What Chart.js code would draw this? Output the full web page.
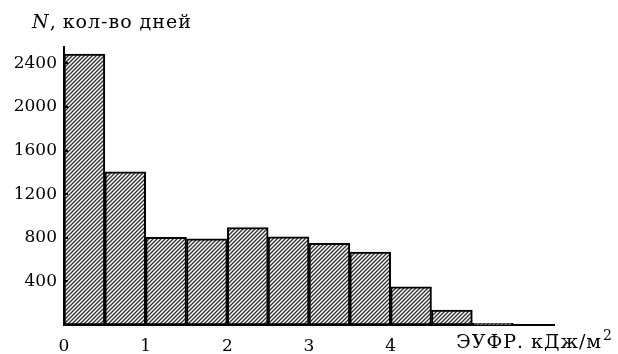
<!DOCTYPE html>
<html>
<head>
<meta charset="utf-8">
<script src="https://cdn.jsdelivr.net/npm/chart.js@4/dist/chart.umd.min.js"></script>
<style>
body{margin:0;background:#fff;}
</style>
</head>
<body>
<canvas id="myChart" width="618" height="354"></canvas>
<script>
// bins of 0.5 kJ/m2, left edges
var binStarts = [0, 0.5, 1, 1.5, 2, 2.5, 3, 3.5, 4, 4.5, 5, 5.5];
var days = [2485, 1405, 805, 790, 893, 808, 748, 668, 350, 138, 15, 0];
var xTicks = [0, 1, 2, 3, 4];
var yTicks = [400, 800, 1200, 1600, 2000, 2400];
var binWidth = 0.5;

var serif = "'DejaVu Serif', 'Liberation Serif', serif";

function makeHatch(){
  var c = document.createElement('canvas');
  c.width = 4; c.height = 4;
  var g = c.getContext('2d');
  g.fillStyle = '#fafafa';
  g.fillRect(0, 0, 4, 4);
  g.strokeStyle = '#333';
  g.lineWidth = 1.3;
  g.beginPath();
  g.moveTo(-1, 5); g.lineTo(5, -1);
  g.moveTo(-1, 1); g.lineTo(1, -1);
  g.moveTo(3, 5); g.lineTo(5, 3);
  g.stroke();
  return g.createPattern(c, 'repeat');
}

var points = binStarts.map(function(x, i){ return {x: x + binWidth / 2, y: days[i]}; });

// texts + inward y tick marks
var extras = {
  id: 'extras',
  afterDatasetsDraw: function(chart){
    var ctx = chart.ctx;
    var ys = chart.scales.y, area = chart.chartArea;
    ctx.save();
    ctx.strokeStyle = '#000';
    ctx.lineWidth = 2;
    yTicks.forEach(function(v){
      var py = Math.round(ys.getPixelForValue(v));
      ctx.beginPath();
      ctx.moveTo(area.left, py);
      ctx.lineTo(area.left + 4, py);
      ctx.stroke();
    });
    ctx.fillStyle = '#000';
    ctx.textBaseline = 'alphabetic';
    ctx.letterSpacing = '1px';
    // y title
    ctx.font = 'italic 19px ' + serif;
    ctx.fillText('N', 32, 28);
    var w = ctx.measureText('N').width;
    ctx.font = '19px ' + serif;
    ctx.fillText(',', 32 + w, 28);
    ctx.fillText('кол-во дней', 32 + w + 13, 28);
    // x title
    ctx.font = '19px ' + serif;
    var main = 'ЭУФР. кДж/м';
    var mw = ctx.measureText(main).width;
    ctx.font = '14px ' + serif;
    var sw = ctx.measureText('2').width;
    var x0 = 613 - sw - 1 - mw;
    ctx.font = '19px ' + serif;
    ctx.fillText(main, x0, 348);
    ctx.font = '14px ' + serif;
    ctx.fillText('2', x0 + mw + 1, 340);
    ctx.restore();
  }
};

new Chart(document.getElementById('myChart'), {
  type: 'bar',
  data: {
    datasets: [{
      data: points,
      backgroundColor: makeHatch(),
      borderColor: '#000',
      borderWidth: 2,
      borderSkipped: false,
      barPercentage: 1,
      categoryPercentage: 1,
      grouped: false
    }]
  },
  options: {
    responsive: false,
    animation: false,
    layout: {padding: {top: 47, right: 64, left: 0, bottom: 0}},
    plugins: {legend: {display: false}, tooltip: {enabled: false}},
    scales: {
      x: {
        type: 'linear',
        min: 0,
        max: 6,
        offset: false,
        grid: {display: false, drawTicks: false},
        border: {display: true, color: '#000', width: 2},
        afterBuildTicks: function(s){ s.ticks = xTicks.map(function(v){ return {value: v}; }); },
        afterFit: function(s){ s.height = 29; },
        ticks: {
          padding: 11,
          maxRotation: 0,
          color: '#000',
          font: {family: serif, size: 17},
          callback: function(v){ return String(v); }
        }
      },
      y: {
        min: 0,
        max: 2550,
        grid: {display: false, drawTicks: false},
        border: {display: true, color: '#000', width: 2},
        afterBuildTicks: function(s){ s.ticks = yTicks.map(function(v){ return {value: v}; }); },
        afterFit: function(s){ s.width = 64; },
        ticks: {
          padding: 7,
          color: '#000',
          font: {family: serif, size: 17},
          callback: function(v){ return String(v); }
        }
      }
    }
  },
  plugins: [extras]
});
</script>
</body>
</html>
